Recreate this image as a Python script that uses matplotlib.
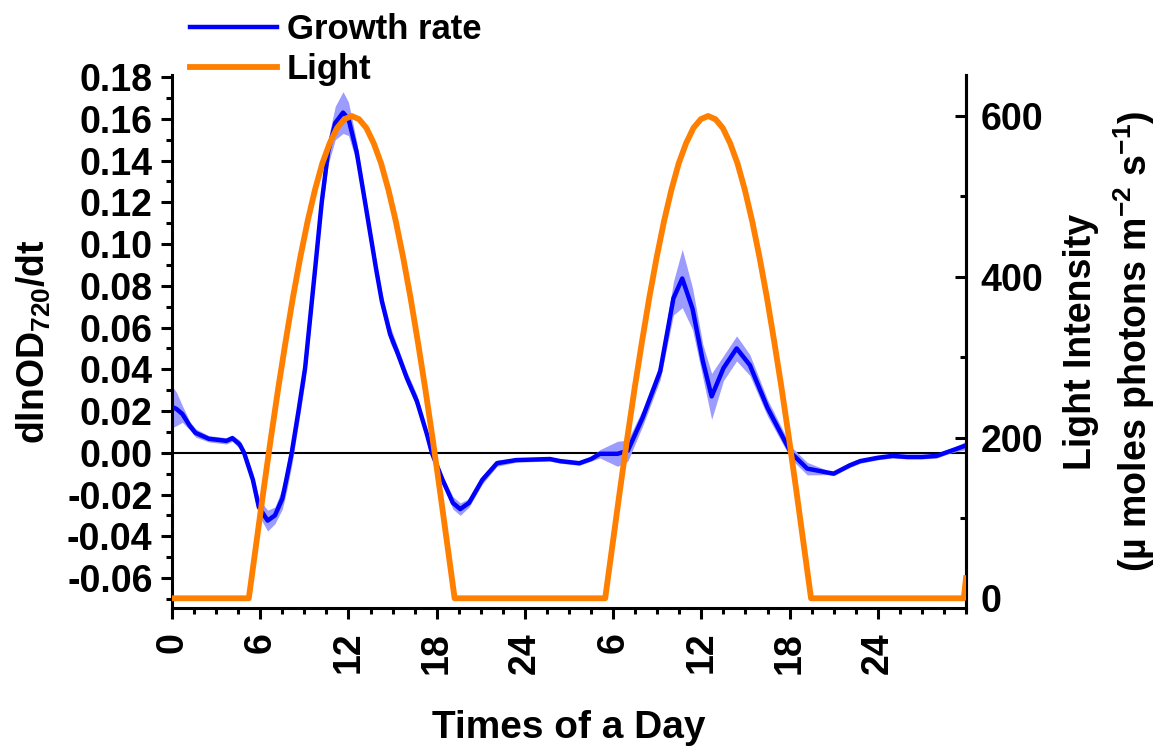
import matplotlib
matplotlib.use('Agg')
import matplotlib.pyplot as plt
import numpy as np
from matplotlib.ticker import MultipleLocator, FormatStrFormatter

plt.rcParams['font.family'] = ['Liberation Sans', 'DejaVu Sans']
plt.rcParams['font.weight'] = 'bold'
plt.rcParams['mathtext.default'] = 'regular'
plt.rcParams['axes.unicode_minus'] = False

# growth rate (dlnOD720/dt) vs time in hours, with half-width of the shaded band
gr_t = [0, 0.3, 0.7, 1.2, 1.6, 2.5, 3.7, 4.1, 4.6, 4.9, 5.5, 5.9, 6.5, 7.0, 7.5,
        7.8, 8.14, 8.6, 9.05, 9.73, 10.18, 10.61, 11.1, 11.63, 12.0, 12.56, 13.13,
        13.88, 14.27, 14.83, 15.29, 15.97, 16.65, 17.33, 17.67, 18.4, 19.1, 19.6,
        20.2, 21.1, 22.1, 23.4, 25.7, 26.4, 27.7, 28.5, 29.1, 30.3, 31.0, 32.0,
        33.2, 34.1, 34.7, 35.4, 36.1, 36.7, 37.5, 38.4, 39.3, 40.5, 42.1, 43.2,
        44.6, 45.0, 46.1, 46.8, 48, 49, 50, 51, 52, 53, 54]
gr_v = [0.022, 0.021, 0.0186, 0.013, 0.0095, 0.0067, 0.0057, 0.007, 0.004, 0.0,
        -0.013, -0.026, -0.0325, -0.030, -0.022, -0.012, 0.0, 0.020, 0.0406,
        0.088, 0.120, 0.144, 0.158, 0.163, 0.160, 0.144, 0.120, 0.088, 0.0726,
        0.0568, 0.0487, 0.0358, 0.0248, 0.009, 0.0, -0.013, -0.024, -0.027,
        -0.024, -0.013, -0.005, -0.0035, -0.003, -0.004, -0.005, -0.003, -0.0005,
        -0.0005, 0.001, 0.0167, 0.039, 0.074, 0.0835, 0.069, 0.044, 0.027, 0.0405,
        0.050, 0.042, 0.0215, 0.0, -0.0076, -0.0095, -0.010, -0.006, -0.004,
        -0.0024, -0.0015, -0.002, -0.002, -0.0015, 0.001, 0.0035]
gr_err = [0.010, 0.008, 0.004, 0.002, 0.002, 0.0015, 0.0015, 0.0015, 0.002, 0.002,
          0.003, 0.004, 0.005, 0.004, 0.005, 0.006, 0.006, 0.006, 0.006, 0.005,
          0.005, 0.006, 0.008, 0.010, 0.008, 0.005, 0.004, 0.004, 0.004, 0.004,
          0.003, 0.003, 0.003, 0.002, 0.002, 0.002, 0.003, 0.003, 0.002, 0.002,
          0.0015, 0.001, 0.001, 0.001, 0.001, 0.001, 0.002, 0.006, 0.005, 0.004,
          0.004, 0.008, 0.014, 0.010, 0.008, 0.011, 0.006, 0.006, 0.005, 0.004,
          0.003, 0.003, 0.001, 0.001, 0.001, 0.001, 0.001, 0.001, 0.001, 0.001,
          0.001, 0.001, 0.002]

# light intensity (umol photons m-2 s-1)
light_t = [0,
           5.22, 5.72, 6.22, 6.72, 7.22, 7.72, 8.22, 8.72, 9.22, 9.72, 10.22, 10.72,
           11.22, 11.72, 12.22, 12.72, 13.22, 13.72, 14.22, 14.72, 15.22, 15.72,
           16.22, 16.72, 17.22, 17.72, 18.22, 18.72, 19.22,
           29.46, 29.96, 30.46, 30.96, 31.46, 31.96, 32.46, 32.96, 33.46, 33.96,
           34.46, 34.96, 35.46, 35.96, 36.46, 36.96, 37.46, 37.96, 38.46, 38.96,
           39.46, 39.96, 40.46, 40.96, 41.46, 41.96, 42.46, 42.96, 43.46,
           53.85, 54]
light_v = [0,
           0, 67, 134, 199, 261, 319, 374, 424, 469, 508, 541, 566, 585, 596, 600,
           596, 585, 566, 541, 508, 469, 424, 374, 319, 261, 199, 134, 67, 0,
           0, 67, 134, 199, 261, 319, 374, 424, 469, 508, 541, 566, 585, 596, 600,
           596, 585, 566, 541, 508, 469, 424, 374, 319, 261, 199, 134, 67, 0,
           0, 25]

tick_pos = [0, 6, 12, 18, 24, 30, 36, 42, 48]
tick_lab = ['0', '6', '12', '18', '24', '6', '12', '18', '24']

fig = plt.figure(figsize=(11.64, 7.5), dpi=100)
ax = fig.add_axes([0.1478, 0.189, 0.6821, 0.711])

t = np.array(gr_t)
v = np.array(gr_v)
e = np.array(gr_err)
ax.fill_between(t, v - e, v + e, color='#9c9cff', lw=0, zorder=2)
ax.axhline(0, color='black', lw=1.5, zorder=1.5)
l1, = ax.plot(t, v, color='#0000ff', lw=3.2, zorder=3, label='Growth rate',
              solid_joinstyle='round')

ax.set_xlim(0, 54)
ax.set_ylim(-0.0745, 0.181)
ax.set_xticks(tick_pos)
ax.set_xticklabels(tick_lab, rotation=90)
ax.xaxis.set_minor_locator(MultipleLocator(1.5))
ax.yaxis.set_major_locator(MultipleLocator(0.02))
ax.yaxis.set_minor_locator(MultipleLocator(0.01))
ax.yaxis.set_major_formatter(FormatStrFormatter('%.2f'))
ax.tick_params(which='major', direction='out', length=8, width=2.2, labelsize=27, pad=6)
ax.tick_params(which='minor', direction='out', length=4.5, width=2.2)
ax.tick_params(axis='x', pad=9)
ax.spines['top'].set_visible(False)
for s in ['left', 'bottom', 'right']:
    ax.spines[s].set_linewidth(2.2)
ax.set_ylabel('dlnOD$_{720}$/dt', fontsize=27, fontweight='bold')
ax.yaxis.set_label_coords(-0.15, 0.5)
ax.set_xlabel('Times of a Day', fontsize=28, fontweight='bold', labelpad=26)

ax2 = ax.twinx()
l2, = ax2.plot(light_t, light_v, color='#ff7f00', lw=4.2, zorder=4, label='Light',
               solid_joinstyle='round')
ax2.set_ylim(-12.4, 651)
ax2.yaxis.set_major_locator(MultipleLocator(200))
ax2.yaxis.set_minor_locator(MultipleLocator(100))
ax2.tick_params(which='major', direction='in', length=8, width=2.2, labelsize=27, pad=10.5)
ax2.tick_params(which='minor', direction='in', length=4.5, width=2.2)
ax2.spines['top'].set_visible(False)
ax2.spines['right'].set_linewidth(2.2)
ax2.set_ylabel('Light Intensity\n(\u00b5 moles photons m$^{-2}$ s$^{-1}$)',
               fontsize=27, fontweight='bold', linespacing=1.35)
ax2.yaxis.set_label_coords(1.122, 0.5)

fig.legend(handles=[l1, l2], loc='upper left', bbox_to_anchor=(0.163, 0.983),
           frameon=False, fontsize=25, handlelength=2.5, handletextpad=0.3,
           labelspacing=0.2, borderpad=0, borderaxespad=0)

fig.savefig('out.png', dpi=100)
